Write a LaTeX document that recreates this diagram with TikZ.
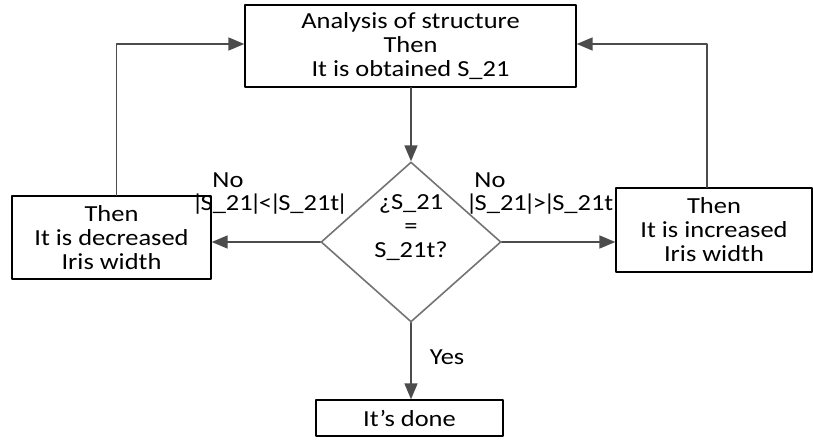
\documentclass[tikz,border=0pt]{standalone}
\usepackage{fontspec}
\setmainfont{Carlito}[FakeStretch=1.15]
\usetikzlibrary{arrows,shapes.geometric}
\definecolor{lngray}{rgb}{0.3,0.3,0.3}
\definecolor{dmgray}{rgb}{0.45,0.45,0.45}
\newcommand{\vbr}{\kern-1.6pt|\kern-1.6pt}
\newcommand{\rel}[1]{\kern0.2pt#1\kern0.2pt}

\begin{document}
\begin{tikzpicture}[line cap=round,line join=round,>=triangle 45,x=0.5pt,y=-0.5pt,
  every node/.style={font=\fontsize{11.5}{12}\selectfont},
  stepbox/.style={draw=black,line width=0.8pt,align=center,inner sep=0pt},
  decide/.style={diamond,draw=dmgray,line width=0.8pt,inner sep=0pt,minimum width=90pt,minimum height=80pt},
  txt/.style={align=center,inner sep=0pt},
  conn/.style={->,draw=lngray,line width=0.8pt}]
\useasboundingbox (0,0) rectangle (813,443);
% boxes
\node[stepbox,minimum width=165.5pt,minimum height=41pt] (anl) at (410.5,46) {Analysis of structure\\Then\\It is obtained S\_21};
\node[decide] (chk) at (411,242) {};
\node[txt] (chkt) at (411,228) {¿S\_21\\=\\S\_21t?};
\node[stepbox,minimum width=99.5pt,minimum height=41.5pt] (dec) at (111.5,237.5) {Then\\It is decreased\\Iris width};
\node[stepbox,minimum width=98pt,minimum height=42pt] (inc) at (714,230) {Then\\It is increased\\Iris width};
\node[stepbox,minimum width=93.5pt,minimum height=18pt] (done) at (409.5,418) {It’s done};
% connectors
\draw[conn] (anl.south -| chk.north) -- (chk.north);
\draw[conn] (chk.west) -- (chk.west -| dec.east);
\draw[conn] (chk.east) -- (chk.east -| inc.west);
\draw[conn] (chk.south) -- (done.north -| chk.south);
\draw[conn] ([xshift=2.5pt]dec.north) |- ([yshift=1pt]anl.west);
\draw[conn] ([xshift=-3.5pt]inc.north) |- ([yshift=1pt]anl.east);
% labels
\node[txt] (nol) at (228,180) {No};
\node[txt] (cml) at (270,204) {\vbr S\_21\vbr\rel{<}\vbr S\_21t\vbr};
\node[txt] (nor) at (490,180) {No};
\node[txt] (cmr) at (544,204) {\vbr S\_21\vbr\rel{>}\vbr S\_21t\vbr};
\node[txt] (yes) at (447,357) {Yes};
\end{tikzpicture}
\end{document}
